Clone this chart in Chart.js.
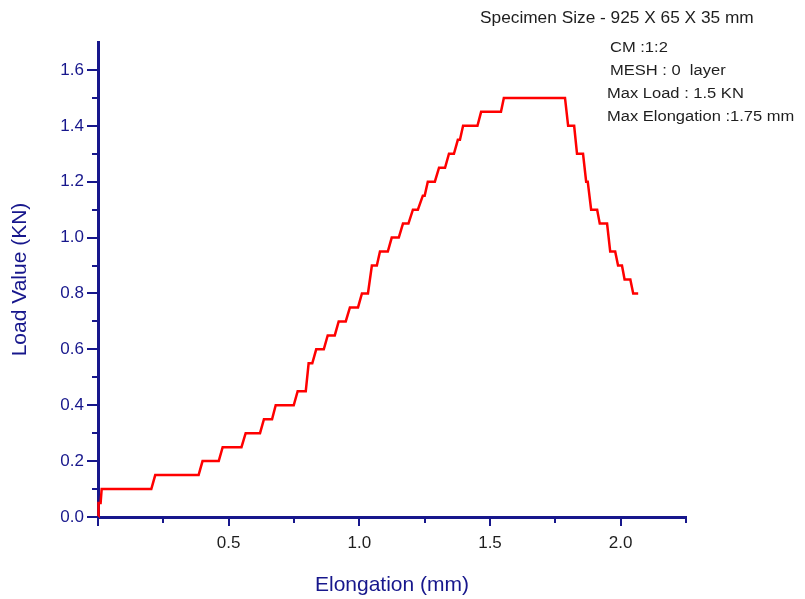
<!DOCTYPE html>
<html>
<head>
<meta charset="utf-8">
<script src="https://cdn.jsdelivr.net/npm/chart.js@4/dist/chart.umd.min.js"></script>
<style>
  html, body { margin: 0; padding: 0; background: #ffffff; }
  #wrap { width: 805px; height: 599px; }
</style>
</head>
<body>
<div id="wrap"><canvas id="c" width="805" height="599"></canvas></div>
<script>
// Elongation (mm) and Load (KN)
const elongation = [0, 0.002, 0.010, 0.014, 0.204, 0.219, 0.385, 0.400, 0.462, 0.477, 0.549, 0.565,
  0.620, 0.635, 0.666, 0.680, 0.749, 0.764, 0.795, 0.806, 0.820, 0.835, 0.864, 0.879, 0.906, 0.921,
  0.948, 0.964, 0.995, 1.010, 1.033, 1.048, 1.067, 1.079, 1.109, 1.124, 1.151, 1.167, 1.188, 1.205,
  1.224, 1.243, 1.250, 1.262, 1.289, 1.305, 1.328, 1.343, 1.362, 1.377, 1.385, 1.397, 1.452, 1.466,
  1.542, 1.553, 1.787, 1.799, 1.822, 1.833, 1.856, 1.868, 1.874, 1.887, 1.910, 1.920, 1.948, 1.960,
  1.979, 1.990, 2.005, 2.015, 2.037, 2.048, 2.067];
const load = [0, 0.05, 0.05, 0.10, 0.10, 0.15, 0.15, 0.20, 0.20, 0.25, 0.25, 0.30,
  0.30, 0.35, 0.35, 0.40, 0.40, 0.45, 0.45, 0.55, 0.55, 0.60, 0.60, 0.65, 0.65, 0.70,
  0.70, 0.75, 0.75, 0.80, 0.80, 0.90, 0.90, 0.95, 0.95, 1.00, 1.00, 1.05, 1.05, 1.10,
  1.10, 1.15, 1.15, 1.20, 1.20, 1.25, 1.25, 1.30, 1.30, 1.35, 1.35, 1.40, 1.40, 1.45,
  1.45, 1.50, 1.50, 1.40, 1.40, 1.30, 1.30, 1.20, 1.20, 1.10, 1.10, 1.05, 1.05, 0.95,
  0.95, 0.90, 0.90, 0.85, 0.85, 0.80, 0.80];

// Axis ticks
const xMajorTicks = [0, 0.5, 1.0, 1.5, 2.0];
const xMinorTicks = [0.25, 0.75, 1.25, 1.75, 2.25];
const xTickLabels = ['0.5', '1.0', '1.5', '2.0'];
const yMajorTicks = [0, 0.2, 0.4, 0.6, 0.8, 1.0, 1.2, 1.4, 1.6];
const yMinorTicks = [0.1, 0.3, 0.5, 0.7, 0.9, 1.1, 1.3, 1.5];

// Annotation texts
const headerText = 'Specimen Size - 925 X 65 X 35 mm';
const infoLines = ['CM :1:2', 'MESH : 0  layer', 'Max Load : 1.5 KN', 'Max Elongation :1.75 mm'];

const NAVY = '#17178c';
const points = elongation.map((x, i) => ({ x: x, y: load[i] }));

const tickPlugin = {
  id: 'customTicks',
  afterDraw(chart) {
    const ctx = chart.ctx;
    const xs = chart.scales.x, ys = chart.scales.y;
    const ca = chart.chartArea;
    ctx.save();
    ctx.strokeStyle = NAVY;
    ctx.lineWidth = 2;
    const yAxisX = ca.left;
    yMajorTicks.forEach(v => {
      const p = Math.round(ys.getPixelForValue(v)) + 0.0;
      ctx.beginPath(); ctx.moveTo(yAxisX, p); ctx.lineTo(yAxisX - 11, p); ctx.stroke();
    });
    yMinorTicks.forEach(v => {
      const p = Math.round(ys.getPixelForValue(v));
      ctx.beginPath(); ctx.moveTo(yAxisX, p); ctx.lineTo(yAxisX - 6, p); ctx.stroke();
    });
    const xAxisY = ca.bottom;
    xMajorTicks.forEach(v => {
      const p = Math.round(xs.getPixelForValue(v));
      ctx.beginPath(); ctx.moveTo(p, xAxisY); ctx.lineTo(p, xAxisY + 9); ctx.stroke();
    });
    xMinorTicks.forEach(v => {
      const p = Math.round(xs.getPixelForValue(v));
      ctx.beginPath(); ctx.moveTo(p, xAxisY); ctx.lineTo(p, xAxisY + 6); ctx.stroke();
    });

    // annotations
    ctx.fillStyle = '#1e1e1e';
    ctx.textBaseline = 'middle';
    ctx.textAlign = 'left';
    ctx.save();
    ctx.translate(480, 19);
    ctx.scale(1.08, 1);
    ctx.font = '16px "Liberation Sans", Arial, sans-serif';
    ctx.fillText(headerText, 0, 0);
    ctx.restore();
    const lx = [610, 610, 607, 607];
    const ly = [48, 71, 94, 117];
    infoLines.forEach((t, i) => {
      ctx.save();
      ctx.translate(lx[i], ly[i]);
      ctx.scale(1.18, 1);
      ctx.font = '14px "Liberation Sans", Arial, sans-serif';
      ctx.fillText(t, 0, 0);
      ctx.restore();
    });
    ctx.restore();
  }
};

new Chart(document.getElementById('c'), {
  type: 'scatter',
  data: {
    datasets: [{
      data: points,
      showLine: true,
      borderColor: '#ff0000',
      backgroundColor: '#ff0000',
      borderWidth: 2.5,
      pointRadius: 0,
      tension: 0,
      clip: 4
    }]
  },
  options: {
    responsive: false,
    devicePixelRatio: 1,
    animation: false,
    layout: { padding: { top: 42, right: 119, left: 0, bottom: 0 } },
    plugins: { legend: { display: false }, tooltip: { enabled: false } },
    scales: {
      x: {
        type: 'linear',
        min: 0, max: 2.25,
        afterFit(s) { s.height = 82; },
        grid: { display: false, drawTicks: false },
        border: { display: true, color: NAVY, width: 3 },
        ticks: {
          stepSize: 0.5,
          padding: 16,
          color: '#1e1e1e',
          font: { family: '"Liberation Sans", Arial, sans-serif', size: 17 },
          callback: (v) => {
            const i = xMajorTicks.indexOf(Math.round(v * 100) / 100);
            return i > 0 ? xTickLabels[i - 1] : '';
          }
        },
        title: {
          display: true,
          text: 'Elongation (mm)',
          color: NAVY,
          font: { family: '"Liberation Sans", Arial, sans-serif', size: 21 },
          padding: { top: 0, bottom: 1 }
        }
      },
      y: {
        type: 'linear',
        min: 0, max: 1.7,
        afterFit(s) { s.width = 98; },
        grid: { display: false, drawTicks: false },
        border: { display: true, color: NAVY, width: 3 },
        ticks: {
          stepSize: 0.2,
          padding: 14,
          color: NAVY,
          font: { family: '"Liberation Sans", Arial, sans-serif', size: 17 },
          callback: (v) => {
            const r = Math.round(v * 10) / 10;
            return yMajorTicks.some(t => Math.abs(t - r) < 1e-6) ? r.toFixed(1) : '';
          }
        },
        title: {
          display: true,
          text: 'Load Value (KN)',
          color: NAVY,
          font: { family: '"Liberation Sans", Arial, sans-serif', size: 21 },
          padding: { top: 8, bottom: 0 }
        }
      }
    }
  },
  plugins: [tickPlugin]
});
</script>
</body>
</html>
